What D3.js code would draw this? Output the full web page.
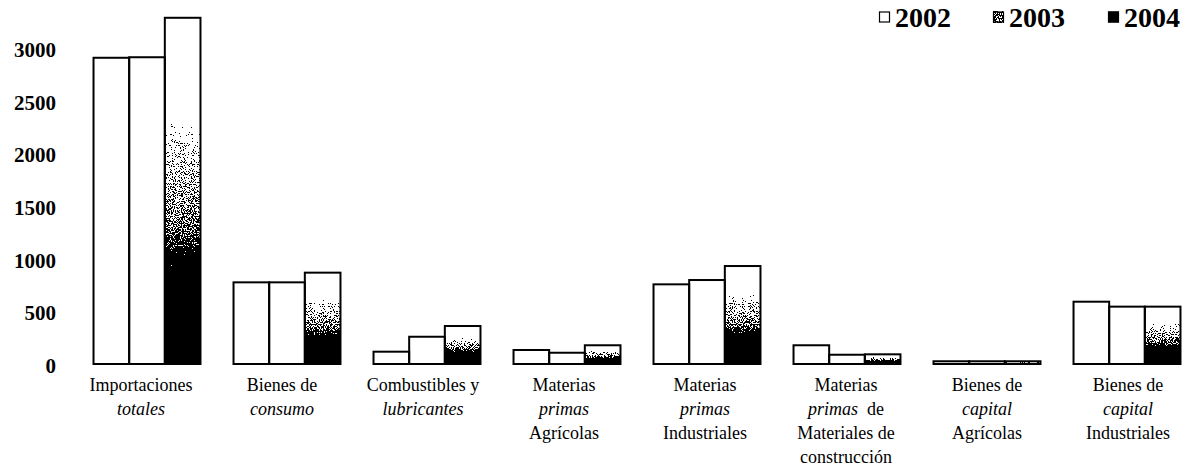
<!DOCTYPE html>
<html>
<head>
<meta charset="utf-8">
<script src="https://cdn.jsdelivr.net/npm/d3@7"></script>
<style>
  html, body { margin: 0; padding: 0; background: #fff; }
  svg { display: block; }
</style>
</head>
<body>
<svg id="chart" width="1185" height="468"></svg>
<script>
// Importaciones por tipo de bien (valores aproximados)
const categories = [
  "Importaciones totales",
  "Bienes de consumo",
  "Combustibles y lubricantes",
  "Materias primas Agrícolas",
  "Materias primas Industriales",
  "Materias primas de Materiales de construcción",
  "Bienes de capital Agrícolas",
  "Bienes de capital Industriales"
];
// Label lines; words wrapped in _underscores_ are set in italics
const categoryLines = [
  ["Importaciones", "_totales_"],
  ["Bienes de", "_consumo_"],
  ["Combustibles y", "_lubricantes_"],
  ["Materias", "_primas_", "Agrícolas"],
  ["Materias", "_primas_", "Industriales"],
  ["Materias", "_primas_  de", "Materiales de", "construcción"],
  ["Bienes de", "_capital_", "Agrícolas"],
  ["Bienes de", "_capital_", "Industriales"]
];
const years = ["2002", "2003", "2004"];
const values2002 = [2910, 776, 117, 133, 757, 178, 26, 592];
const values2003 = [2915, 776, 259, 107, 798, 88, 26, 545];
const values2004 = [3290, 868, 361, 178, 931, 92, 26, 545];
const yTicks = [0, 500, 1000, 1500, 2000, 2500, 3000];

const series = [values2002, values2003, values2004];
const rows = categories.map((c, i) => ({
  category: c,
  values: years.map((y, k) => ({ year: y, value: series[k][i] }))
}));

const svg = d3.select("#chart");
const serif = "'Liberation Serif', 'Times New Roman', serif";

// Definitions: graded fill that is dithered into black/white dots
const defs = svg.append("defs");
const grad = defs.append("linearGradient")
  .attr("id", "fade").attr("x1", 0).attr("y1", 0).attr("x2", 0).attr("y2", 1);
[[0, "#fff"], [0.29, "#fff"], [0.36, "#e2e2e2"], [0.48, "#aaaaaa"], [0.62, "#606060"], [0.67, "#1a1a1a"], [0.69, "#000"], [1, "#000"]]
  .forEach(([o, c]) => grad.append("stop").attr("offset", o).attr("stop-color", c));

const dither = defs.append("filter")
  .attr("id", "dither").attr("x", 0).attr("y", 0).attr("width", 1).attr("height", 1)
  .attr("color-interpolation-filters", "sRGB");
dither.append("feTurbulence")
  .attr("type", "fractalNoise").attr("baseFrequency", 0.9).attr("numOctaves", 1)
  .attr("seed", 7).attr("result", "noise");
dither.append("feColorMatrix")
  .attr("in", "noise").attr("type", "matrix")
  .attr("values", "1 0 0 0 0  1 0 0 0 0  1 0 0 0 0  0 0 0 0 1")
  .attr("result", "grey");
// spread the noise so that it is close to uniform over 0..1
const spread = dither.append("feComponentTransfer").attr("in", "grey").attr("result", "uniform");
["feFuncR", "feFuncG", "feFuncB"].forEach(f =>
  spread.append(f).attr("type", "table").attr("tableValues", "0 0 0 0.03 0.18 0.5 0.82 0.97 1 1 1"));
dither.append("feComposite")
  .attr("in", "SourceGraphic").attr("in2", "uniform").attr("operator", "arithmetic")
  .attr("k1", 0).attr("k2", 1).attr("k3", 1).attr("k4", -0.5).attr("result", "sum");
const ct = dither.append("feComponentTransfer").attr("in", "sum");
["feFuncR", "feFuncG", "feFuncB"].forEach(f =>
  ct.append(f).attr("type", "discrete").attr("tableValues", "0 1"));

// Flat grey, dithered, for the 2003 legend key
const grad2 = defs.append("linearGradient").attr("id", "flatgrey");
grad2.append("stop").attr("offset", 0).attr("stop-color", "#6e6e6e");
grad2.append("stop").attr("offset", 1).attr("stop-color", "#6e6e6e");

// Scales
const x = d3.scaleBand().domain(categories).range([77, 1197])
  .paddingInner(0.236).paddingOuter(0.118);
const xs = d3.scaleBand().domain(years).range([0, x.bandwidth()]);
const y = d3.scaleLinear().domain([0, 3000]).range([364, 48.3]);
const xLabel = d3.scalePoint().domain(categories).range([141, 1128]);

// Y axis labels only (no line, no ticks)
const yAxis = svg.append("g")
  .attr("transform", "translate(56,0)")
  .call(d3.axisLeft(y).tickValues(yTicks).tickSize(0).tickPadding(0).tickFormat(d3.format("d")));
yAxis.select(".domain").remove();
yAxis.selectAll("text")
  .attr("font-family", serif).attr("font-weight", "bold").attr("font-size", 21)
  .attr("fill", "#000").attr("dy", "0.4em");

// Bars
const groups = svg.append("g").selectAll("g").data(rows).join("g")
  .attr("transform", d => `translate(${x(d.category)},0)`);

groups.selectAll("rect.fill").data(d => d.values).join("rect")
  .attr("class", "fill")
  .attr("x", d => xs(d.year))
  .attr("y", d => y(d.value))
  .attr("width", xs.bandwidth())
  .attr("height", d => y(0) - y(d.value))
  .attr("fill", d => d.year === "2004" ? "url(#fade)" : "#fff")
  .attr("filter", d => d.year === "2004" ? "url(#dither)" : null);

groups.selectAll("rect.edge").data(d => d.values).join("rect")
  .attr("class", "edge")
  .attr("x", d => xs(d.year))
  .attr("y", d => y(d.value))
  .attr("width", xs.bandwidth())
  .attr("height", d => y(0) - y(d.value))
  .attr("fill", "none")
  .attr("stroke", "#000")
  .attr("stroke-width", 2);

// Category labels
const labels = svg.append("g").selectAll("text").data(rows).join("text")
  .attr("font-family", serif).attr("font-size", 18).attr("fill", "#000")
  .attr("text-anchor", "middle")
  .attr("x", d => xLabel(d.category))
  .attr("y", 391);
labels.each(function(d, i) {
  const t = d3.select(this);
  categoryLines[i].forEach((line, li) => {
    const parts = line.split(/(_[^_]+_)/).filter(p => p.length);
    parts.forEach((p, pi) => {
      const ts = t.append("tspan").attr("xml:space", "preserve");
      if (pi === 0) ts.attr("x", xLabel(d.category)).attr("dy", li === 0 ? 0 : 24);
      if (p.startsWith("_")) ts.attr("font-style", "italic").text(p.slice(1, -1));
      else ts.text(p);
    });
  });
});

// Legend
const legendKeys = [
  { year: "2002", x: 879, fill: "#fff", filter: null },
  { year: "2003", x: 993, fill: "url(#flatgrey)", filter: "url(#dither)" },
  { year: "2004", x: 1108, fill: "#000", filter: null }
];
const legend = svg.append("g").selectAll("g").data(legendKeys).join("g")
  .attr("transform", d => `translate(${d.x},17)`);
legend.append("rect")
  .attr("x", 0).attr("y", -5.5).attr("width", 11).attr("height", 11)
  .attr("fill", d => d.fill).attr("filter", d => d.filter);
legend.append("rect")
  .attr("x", 0.5).attr("y", -5).attr("width", 10).attr("height", 10)
  .attr("fill", "none").attr("stroke", "#000").attr("stroke-width", 1.2);
legend.append("text")
  .attr("x", 16).attr("y", 0).attr("dy", "0.36em")
  .attr("font-family", serif).attr("font-weight", "bold").attr("font-size", 28)
  .attr("fill", "#000")
  .text(d => d.year);
</script>
</body>
</html>
